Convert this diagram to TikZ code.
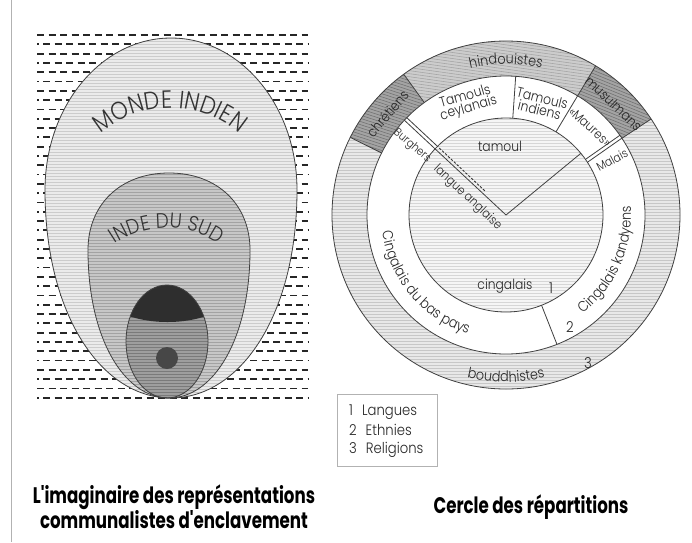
\documentclass[tikz,border=0pt]{standalone}
\usepackage{fontspec}
\setmainfont{Poppins}
\newfontfamily\lab[FakeStretch=0.88]{Poppins Light}
\newfontfamily\ttl[FakeStretch=0.74]{Poppins}
\usetikzlibrary{decorations.text}
\newcommand\hatchpath[5]{%
  \begin{scope}
    \clip #1;
    \fill[#2] (0,0) rectangle (692,-542);
    \begin{scope}[shift={#5},rotate=#4]
      \foreach \k in {-70,...,70}{\draw[#3,line width=.55pt] (-240,\k*3) -- (240,\k*3);}
    \end{scope}
  \end{scope}}
\def\sect#1#2#3#4{([shift={(506,-215)}]#1:#3) arc[start angle=#1,end angle=#2,radius=#3] -- ([shift={(506,-215)}]#2:#4) arc[start angle=#2,end angle=#1,radius=#4] -- cycle}
\def\outerP{(171,-38) .. controls (101.4,-38) and (45,-106) .. (45,-190) .. controls (45,-315) and (101.7,-398) .. (171,-398) .. controls (240.3,-398) and (297,-315) .. (297,-190) .. controls (297,-106) and (240.6,-38) .. cycle}
\def\midP{(169,-173) .. controls (120,-173) and (88,-205) .. (88,-250) .. controls (88,-338.8) and (124.4,-398) .. (169,-398) .. controls (213.6,-398) and (250,-338.8) .. (250,-250) .. controls (250,-205) and (218,-173) .. cycle}
\def\innP{(167,-341.5) ellipse[x radius=41,y radius=56.5]}
\tikzset{
  outline/.style={draw=black!75, line width=0.8pt},
  lbl/.style={font=\lab\fontsize{14}{14}\selectfont, inner sep=0pt, text=black!85},
  num/.style={font=\lab\fontsize{15}{15}\selectfont, inner sep=0pt, text=black!85},
  ttlstyle/.style={font=\ttl\bfseries\fontsize{22.5}{25}\selectfont, inner sep=0pt, align=center},
}
\begin{document}
\begin{tikzpicture}[x=1pt,y=1pt]
\useasboundingbox (0,0) rectangle (692,-542);
\fill[white] (0,0) rectangle (692,-542);
\draw[black!30, line width=1pt] (11,0) -- (11,-542);

% ---------- left panel: dashed background
\foreach \i in {0,...,39}{
  \pgfmathsetmacro\yy{-35-\i*9.3}
  \pgfmathsetmacro\ph{mod(\i,2)*5.5}
  \draw[black!85, line width=1.8pt, dash pattern=on 7pt off 4.5pt, dash phase=\ph] (37,\yy) -- (308,\yy);
}
\hatchpath{\outerP}{black!8}{black!20}{0}{(171,-218)}
\hatchpath{\midP}{black!22}{black!36}{0}{(169,-285)}
\hatchpath{\innP}{black!38}{black!52}{0}{(167,-341)}
\begin{scope}
  \clip \innP;
  \fill[black!82] (110,-270) -- (225,-270) -- (225,-307) .. controls (195,-327) and (140,-327) .. (110,-307) -- cycle;
\end{scope}
\fill[black!72] (167,-358) circle (11);
\draw[outline] \outerP;
\draw[outline] \midP;
\draw[outline] \innP;

\path[decorate, decoration={text along path, text align=center,
  text={|\lab\fontsize{25}{25}\selectfont\color{black!80}|MONDE INDIEN}}]
  (170,-215) ++(140:107) arc[start angle=140, end angle=40, radius=107];
\path[decorate, decoration={text along path, text align=center,
  text={|\lab\fontsize{21}{21}\selectfont\color{black!80}|INDE DU SUD}}]
  (167,-321) ++(135:93) arc[start angle=135, end angle=45, radius=93];

% ---------- right panel
\coordinate (C) at (506,-215);
\hatchpath{(506,-215) circle (174)}{black!9}{black!22}{0}{(506,-215)}
\hatchpath{\sect{126}{153.5}{139}{174}}{black!36}{black!56}{-18}{(393,-110)}
\hatchpath{\sect{59}{126}{139}{174}}{black!20}{black!36}{-8}{(506,-60)}
\hatchpath{\sect{33.5}{59}{139}{174}}{black!36}{black!56}{-22}{(615,-105)}
\fill[white] (C) circle (139);
\hatchpath{(506,-215) circle (97)}{black!4}{black!16}{0}{(506,-215)}

\draw[outline] (C) circle (174);
\draw[outline] (C) circle (139);
\draw[outline] (C) circle (97);
\foreach \a in {153.5,126,59,33.5}{\draw[outline] ([shift={(C)}]\a:139) -- ([shift={(C)}]\a:174);}
\foreach \a in {86,59,-68.5}{\draw[outline] ([shift={(C)}]\a:97) -- ([shift={(C)}]\a:139);}
\draw[outline] (C) -- ([shift={(C)}]39.5:97);
\begin{scope}[shift={(506,-215)},rotate=137]
  \draw[outline] (0,0) -- (139,0);
  \draw[outline] (97,-3.5) -- (139,-3.5);
  \draw[black!80, line width=0.9pt, dash pattern=on 2.5pt off 1.5pt] (32,-3.2) -- (97,-3.5);
\end{scope}
\begin{scope}[shift={(506,-215)},rotate=35]
  \draw[outline] (97,0) -- (139,0);
  \draw[outline] (97,-3.5) -- (139,-3.5);
\end{scope}

% religion labels
\path[decorate, decoration={text along path, text align=center,
  text={|\lab\fontsize{14.5}{14}\selectfont\color{black!85}|hindouistes}}]
  (506,-215) ++(110:151) arc[start angle=110, end angle=70, radius=151];
\node[lbl, rotate=50] (chr) at ([shift={(C)}]139.5:156) {chrétiens};
\node[lbl, rotate=-44] (mus) at ([shift={(C)}]46:155) {musulmans};
\path[decorate, decoration={text along path, text align=center,
  text={|\lab\fontsize{14.5}{14}\selectfont\color{black!85}|bouddhistes}}]
  (506,-215) ++(250:167) arc[start angle=250, end angle=290, radius=167];

% ethnie labels
\node[lbl, rotate=16, align=center] (tc) at (467,-103) {Tamouls\\[-2pt]ceylanais};
\node[lbl, rotate=-14, align=center] (ti) at (541,-104) {Tamouls\\[-2pt]indiens};
\node[lbl, rotate=-42, font=\lab\fontsize{13}{13}\selectfont] (mau) at (590,-127) {«Maures»};
\node[lbl, rotate=28, font=\lab\fontsize{12}{12}\selectfont] (mal) at (612,-160) {Malais};
\node[lbl, rotate=-40, font=\lab\fontsize{11.5}{12}\selectfont] (bur) at (412,-146) {Burghers};
\path[decorate, decoration={text along path, text align=center,
  text={|\lab\fontsize{14.5}{14}\selectfont\color{black!85}|Cingalais du bas pays}}]
  (506,-215) ++(185:125) arc[start angle=185, end angle=255, radius=125];
\path[decorate, decoration={text along path, text align=center,
  text={|\lab\fontsize{14.5}{14}\selectfont\color{black!85}|Cingalais kandyens}}]
  (506,-215) ++(-55:125) arc[start angle=-55, end angle=7, radius=125];

% langue labels
\node[lbl] (tam) at (500,-146) {tamoul};
\node[lbl] (cin) at (505,-286) {cingalais};
\node[lbl, rotate=-43, font=\lab\fontsize{12.5}{13}\selectfont] (ang) at (467.5,-197.5) {langue anglaise};
\node[num] (n1) at (551,-288) {1};
\node[num] (n2) at (570,-327) {2};
\node[num] (n3) at (588,-363) {3};

% legend
\node[draw=black!30, line width=0.6pt, minimum width=100pt, minimum height=72pt, anchor=north west] (leg) at (337,-394) {};
\node[num, anchor=west, align=left] (legt) at (349,-431) {1\hspace{9pt}Langues\\[3pt]2\hspace{9pt}Ethnies\\[3pt]3\hspace{9pt}Religions};

% titles
\node[ttlstyle] (t1) at (174,-507) {L'imaginaire des représentations\\communalistes d'enclavement};
\node[ttlstyle] (t2) at (531,-507) {Cercle des répartitions};
\end{tikzpicture}
\end{document}
